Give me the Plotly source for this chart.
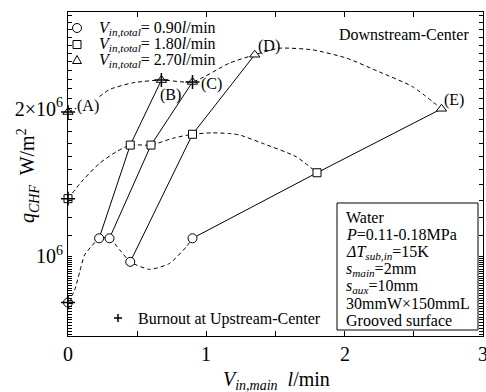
import plotly.graph_objects as go
import math

# ---------------- data ----------------
# measured points: V_in,main [l/min] and q_CHF [W/m2] for each total flow rate
x_circle = [0.0, 0.225, 0.30, 0.45, 0.90]          # V_in,total = 0.90 l/min
q_circle = [8.03e5, 1.087e6, 1.087e6, 9.73e5, 1.087e6]
x_square = [0.0, 0.45, 0.60, 0.90, 1.80]           # V_in,total = 1.80 l/min
q_square = [1.31e6, 1.686e6, 1.686e6, 1.774e6, 1.48e6]
x_tri = [0.0, 0.675, 0.90, 1.35, 2.70]             # V_in,total = 2.70 l/min
q_tri = [1.97e6, 2.29e6, 2.27e6, 2.58e6, 2.0e6]
# burnout at upstream-center flags
burn_circle = [1, 0, 0, 0, 0]
burn_square = [1, 0, 0, 0, 0]
burn_tri = [1, 1, 1, 0, 0]
point_labels = ["(A)", "(B)", "(C)", "(D)", "(E)"]

# dashed fitted curves
curve_circle_x = [0, 0.048, 0.084, 0.12, 0.171, 0.225, 0.3, 0.374, 0.45, 0.59, 0.734, 0.855, 0.9]
curve_circle_q = [8.03e5, 8.52e5, 9.27e5, 1.005e6, 1.048e6, 1.087e6, 1.087e6, 1.029e6, 9.73e5,
                  9.39e5, 9.66e5, 1.044e6, 1.087e6]
curve_square_x = [0, 0.108, 0.229, 0.349, 0.45, 0.6, 0.758, 0.9, 1.047, 1.166, 1.24, 1.406, 1.649, 1.8]
curve_square_q = [1.31e6, 1.43e6, 1.548e6, 1.634e6, 1.686e6, 1.686e6, 1.741e6, 1.774e6, 1.786e6,
                  1.78e6, 1.768e6, 1.70e6, 1.596e6, 1.48e6]
curve_tri_x = [0, 0.208, 0.3, 0.467, 0.675, 0.9, 1.167, 1.35, 1.529, 1.767, 2.012, 2.25, 2.49, 2.7]
curve_tri_q = [1.97e6, 2.10e6, 2.19e6, 2.26e6, 2.29e6, 2.27e6, 2.48e6, 2.58e6, 2.66e6, 2.64e6,
               2.54e6, 2.38e6, 2.22e6, 2.0e6]

legend_texts = [
    "<i>V</i><sub><i>in,total</i></sub>= 0.90<i>l</i>/min",
    "<i>V</i><sub><i>in,total</i></sub>= 1.80<i>l</i>/min",
    "<i>V</i><sub><i>in,total</i></sub>= 2.70<i>l</i>/min",
]
info_lines = [
    "Water",
    "<i>P</i>=0.11-0.18MPa",
    "<i>ΔT</i><sub><i>sub,in</i></sub>=15K",
    "<i>s</i><sub><i>main</i></sub>=2mm",
    "<i>s</i><sub><i>aux</i></sub>=10mm",
    "30mmW×150mmL",
    "Grooved surface",
]
x_major = [0, 1, 2, 3]
x_major_text = ["0", "1", "2", "3"]
x_minor = [0.5, 1.5, 2.5]
y_major = [1e6, 2e6]
y_major_text = ["10<sup>6</sup>", "2×10<sup>6</sup>"]

# ---------------- layout helpers ----------------
FONT = "Liberation Serif, Times New Roman, serif"
W, H = 486, 392
ML, MR, MT, MB = 68, 3, 12, 56
PW = W - ML - MR
PH = H - MT - MB
Y_RANGE = [5.8364, 6.499]
X_RANGE = [0, 3]


def px(x):
    return (x - ML) / PW


def py(y):
    return (H - MB - y) / PH


def xpaper(v):
    return (v - X_RANGE[0]) / (X_RANGE[1] - X_RANGE[0])


fig = go.Figure()

dash = "4px,3px"
for cx, cq in [(curve_circle_x, curve_circle_q), (curve_square_x, curve_square_q),
               (curve_tri_x, curve_tri_q)]:
    fig.add_trace(go.Scatter(x=cx, y=cq, mode="lines", showlegend=False, hoverinfo="skip",
                             line=dict(color="black", width=1, dash=dash, shape="spline",
                                       smoothing=0.6)))

# solid lines: constant main/total ratio
for j in range(1, 5):
    fig.add_trace(go.Scatter(x=[x_circle[j], x_square[j], x_tri[j]],
                             y=[q_circle[j], q_square[j], q_tri[j]],
                             mode="lines", showlegend=False, hoverinfo="skip",
                             line=dict(color="black", width=1)))

series = [
    (x_circle, q_circle, "circle", 9, burn_circle),
    (x_square, q_square, "square", 8, burn_square),
    (x_tri, q_tri, "triangle-up", 9, burn_tri),
]
for xs, qs, sym, size, _ in series:
    fig.add_trace(go.Scatter(x=xs, y=qs, mode="markers", showlegend=False, cliponaxis=False,
                             marker=dict(symbol=sym, size=size, color="white",
                                         line=dict(color="black", width=1))))

bx, bq = [], []
for xs, qs, _, _, flags in series:
    for xv, qv, f in zip(xs, qs, flags):
        if f:
            bx.append(xv)
            bq.append(qv)
fig.add_trace(go.Scatter(x=bx, y=bq, mode="markers", showlegend=False, cliponaxis=False,
                         marker=dict(symbol="cross-thin", size=10,
                                     line=dict(color="black", width=1.5))))

annotations = []
shapes = []

# tick positions on the axes (all ticks native; labels only on the major ones)
minor_y = [v * 1e4 for v in range(69, 100)] + [v * 1e5 for v in range(11, 32) if v != 20]
y_tickvals = minor_y + y_major
y_ticktext = [""] * len(minor_y) + y_major_text
x_tickvals = x_minor + x_major

# x tick labels as text under the axis (last one runs past the page edge as in the original)
for v, t in zip(x_major, x_major_text):
    annotations.append(dict(x=xpaper(v), y=py(354), xref="paper", yref="paper", text=t,
                            showarrow=False, xanchor="center", yanchor="middle",
                            font=dict(family=FONT, size=20, color="black")))

# manual legend
leg_y = [28, 44.5, 60]
for i, (t, yy) in enumerate(zip(legend_texts, leg_y)):
    annotations.append(dict(x=px(97), y=py(yy), xref="paper", yref="paper", text=t,
                            showarrow=False, xanchor="left", yanchor="middle",
                            font=dict(family=FONT, size=16, color="black")))
common = dict(xref="paper", yref="paper", xsizemode="pixel", ysizemode="pixel",
              line=dict(color="black", width=1), fillcolor="white")
shapes.append(dict(type="circle", xanchor=px(77), yanchor=py(leg_y[0]), x0=-4.5, x1=4.5,
                   y0=-4.5, y1=4.5, **common))
shapes.append(dict(type="rect", xanchor=px(77), yanchor=py(leg_y[1]), x0=-4, x1=4,
                   y0=-4, y1=4, **common))
shapes.append(dict(type="path", xanchor=px(77), yanchor=py(leg_y[2]),
                   path="M-4.5,-3.5 L4.5,-3.5 L0,4.5 Z", **common))
# burnout legend
shapes.append(dict(type="path", xanchor=px(118), yanchor=py(318),
                   path="M-4,0 L4,0 M0,-4 L0,4", xref="paper", yref="paper",
                   xsizemode="pixel", ysizemode="pixel", line=dict(color="black", width=1.5)))
annotations.append(dict(x=px(136), y=py(319), xref="paper", yref="paper",
                        text="Burnout at Upstream-Center", showarrow=False,
                        xanchor="left", yanchor="middle",
                        font=dict(family=FONT, size=16, color="black")))

annotations.append(dict(x=px(471), y=py(35), xref="paper", yref="paper",
                        text="Downstream-Center", showarrow=False,
                        xanchor="right", yanchor="middle",
                        font=dict(family=FONT, size=16, color="black")))

# point labels
label_pos = [(87.5, 106), (170.5, 94.5), (211, 83.5), (269, 45.5), (454, 100)]
for lab, (lx, ly) in zip(point_labels, label_pos):
    d = dict(x=px(lx), y=py(ly), xref="paper", yref="paper", text=lab, showarrow=False,
             xanchor="center", yanchor="middle",
             font=dict(family=FONT, size=16, color="black"))
    if lab == "(A)":
        d["bgcolor"] = "white"
        d["borderpad"] = 0
    annotations.append(d)

# info box
shapes.append(dict(type="rect", xref="paper", yref="paper", x0=px(337), x1=px(478),
                   y0=py(330), y1=py(203), line=dict(color="black", width=1),
                   fillcolor="white", layer="above"))
for i, t in enumerate(info_lines):
    annotations.append(dict(x=px(344), y=py(218 + 17 * i), xref="paper", yref="paper",
                            text=t, showarrow=False, xanchor="left", yanchor="middle",
                            font=dict(family=FONT, size=16, color="black")))

# axis titles
annotations.append(dict(x=px(28), y=py(176), xref="paper", yref="paper",
                        text="<i>q</i><sub><i>CHF</i></sub>  W/m<sup>2</sup>",
                        showarrow=False, textangle=-90, xanchor="center", yanchor="middle",
                        font=dict(family=FONT, size=20, color="black")))
annotations.append(dict(x=px(276), y=py(380), xref="paper", yref="paper",
                        text="<i>V</i><sub><i>in,main</i></sub>  <i>l</i>/min",
                        showarrow=False, xanchor="center", yanchor="middle",
                        font=dict(family=FONT, size=20, color="black")))

fig.update_layout(
    width=W, height=H, margin=dict(l=ML, r=MR, t=MT, b=MB),
    paper_bgcolor="white", plot_bgcolor="white", showlegend=False,
    annotations=annotations, shapes=shapes,
    xaxis=dict(range=X_RANGE, tickmode="array", tickvals=x_tickvals,
               showticklabels=False, ticks="inside", ticklen=5, tickwidth=1,
               tickcolor="black", showline=True, linecolor="black", linewidth=1,
               mirror="ticks", showgrid=False, zeroline=False),
    yaxis=dict(type="log", range=Y_RANGE, tickmode="array", tickvals=y_tickvals,
               ticktext=y_ticktext, ticks="inside", ticklen=4, tickwidth=1,
               tickcolor="black", showline=True, linecolor="black",
               linewidth=1, mirror="ticks", showgrid=False, zeroline=False,
               tickfont=dict(family=FONT, size=20, color="black")),
)

fig.write_html("out.html")
